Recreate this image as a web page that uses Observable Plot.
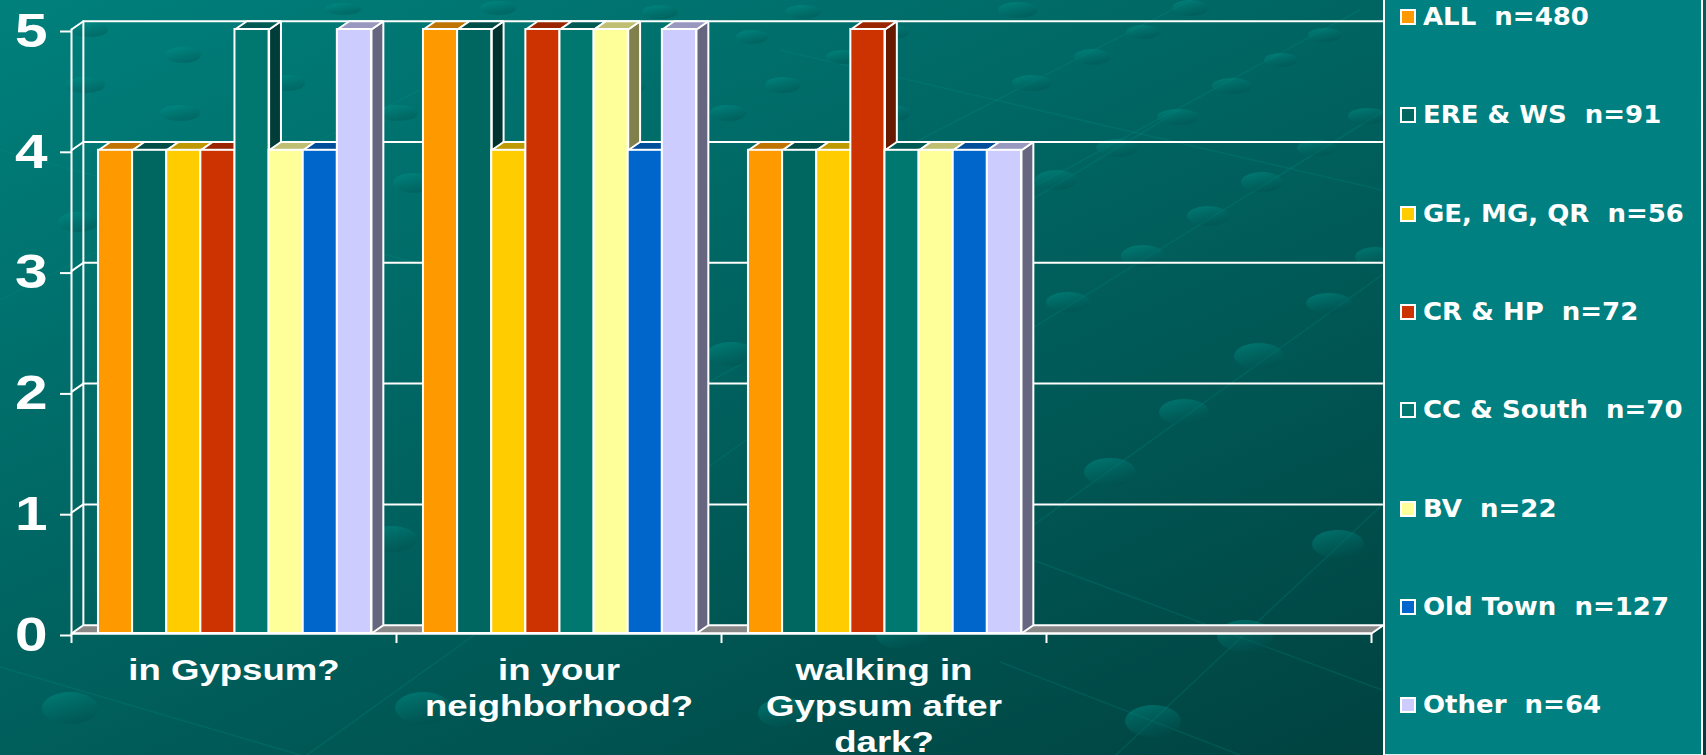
<!DOCTYPE html>
<html>
<head>
<meta charset="utf-8">
<script src="https://cdn.jsdelivr.net/npm/d3@7"></script>
<script src="https://cdn.jsdelivr.net/npm/@observablehq/plot@0.6"></script>
<style>
html,body{margin:0;padding:0;width:1706px;height:755px;overflow:hidden;background-color:#005a57;}
#chart{position:absolute;left:0;top:0;}
#legend{position:absolute;left:1383px;top:0;width:316px;height:754px;background:#008080;border-left:2px solid #fff;border-right:2px solid #fff;border-bottom:1px solid #dfeeee;font:bold 26px "DejaVu Sans",sans-serif;color:#fff;}
#legend .item{position:absolute;left:15px;display:flex;align-items:center;height:30px;white-space:pre;}
#legend .sw{width:12px;height:12px;border:2px solid #fff;margin-right:7px;flex:none;}
#legend span{display:inline-block;transform:scaleY(.92);}
</style>
</head>
<body>
<div id="chart"></div>
<div id="legend"></div>
<script>
// ---- chart data ----
const categories = ["in Gypsum?", "in your\nneighborhood?", "walking in\nGypsum after\ndark?", ""];
const series = ["ALL", "ERE & WS", "GE, MG, QR", "CR & HP", "CC & South", "BV", "Old Town", "Other"];
const counts = [480, 91, 56, 72, 70, 22, 127, 64];
const colors = ["#FF9900", "#006660", "#FFCC00", "#CC3300", "#007870", "#FFFF99", "#0066CC", "#CCCCFF"];
const inGypsum = [4, 4, 4, 4, 5, 4, 4, 5];
const inNeighborhood = [5, 5, 4, 5, 5, 5, 4, 5];
const walkingAfterDark = [4, 4, 4, 5, 4, 4, 4, 4];
const yTicks = [0, 1, 2, 3, 4, 5];

// ---- page backdrop (decorative slide texture, not data) ----
const blobs = [[1018,10,20,8],[1190,8,18,8],[1143,32,17,7],[1092,57,18,8],[1032,83,20,8],[1325,35,17,7],[1281,60,17,7],[1232,86,20,8],[1178,117,21,8],[1368,116,20,8],[1117,148,21,9],[1317,148,20,8],[1056,180,21,10],[1262,182,21,10],[1208,216,21,10],[1143,256,22,11],[1375,257,20,10],[1068,302,22,10],[1329,303,23,10],[1259,356,25,13],[1184,412,25,13],[1338,544,26,14],[1110,472,26,14],[1245,636,28,16],[1153,721,28,16],[902,635,26,14],[785,713,27,15],[70,708,28,16],[423,708,28,16],[392,539,25,13],[731,354,24,12],[183,55,18,8],[180,113,20,8],[85,85,20,8],[413,183,20,10],[78,222,20,10],[287,83,18,8],[398,113,20,8],[343,9,18,6],[90,30,18,7],[498,8,18,7],[660,12,18,7],[803,12,18,7],[752,37,16,7],[692,62,16,7],[783,85,18,8],[728,113,18,8],[893,113,18,8],[842,57,16,7],[893,32,16,7],[630,86,16,8]];
const rays = [[900,150,1230,-20],[1000,205,1360,10],[940,255,1180,110],[900,410,1382,112],[950,585,1382,275],[1100,770,1382,505],[640,420,1020,210],[300,760,760,430],[0,300,420,90],[0,667,420,790],[1033,560,1382,690],[1000,662,1240,755],[0,150,700,340],[780,50,1382,190]];
const backdrop = `<svg xmlns="http://www.w3.org/2000/svg" width="1706" height="755">
<defs><linearGradient id="g" x1="0.2" y1="0" x2="0.7" y2="1"><stop offset="0" stop-color="#009a90" stop-opacity=".45"/><stop offset="1" stop-color="#004a48" stop-opacity=".35"/></linearGradient>
<linearGradient id="b" x1="0" y1="0" x2="1" y2="1"><stop offset="0" stop-color="#00807C"/><stop offset="1" stop-color="#003C3A"/></linearGradient></defs>
<rect width="1706" height="755" fill="url(#b)"/>
${rays.map(r => `<line x1="${r[0]}" y1="${r[1]}" x2="${r[2]}" y2="${r[3]}" stroke="#00928a" stroke-opacity=".22" stroke-width="1.5"/>`).join("")}
${blobs.map(b => `<ellipse cx="${b[0]}" cy="${b[1]}" rx="${b[2]}" ry="${b[3]}" fill="url(#g)"/>`).join("")}
</svg>`;
document.body.style.backgroundImage = `url("data:image/svg+xml,${encodeURIComponent(backdrop)}")`;

// ---- bars as a table ----
const rows = [inGypsum, inNeighborhood, walkingAfterDark].flatMap((vals, c) =>
  vals.map((value, s) => ({category: c, series: series[s], s, value})));

const groupGap = 0.083, barW = 0.105;      // in category units along x
const depthX = 0.0365, depthY = 0.0687;    // oblique depth in x / y data units
const x0 = d => d.category + groupGap + d.s * barW;
const x1 = d => x0(d) + barW;
const shade = (c, k) => { const r = d3.rgb(c); return d3.rgb(r.r * k, r.g * k, r.b * k).formatHex(); };

const poly = (pts, fill) => Plot.line(pts, {x: "0", y: "1", curve: "linear-closed", fill, stroke: "#fff", strokeWidth: 2, strokeLinejoin: "miter"});
const seg = (pts, w = 2) => Plot.line(pts, {x: "0", y: "1", stroke: "#fff", strokeWidth: w});

const barMarks = rows.flatMap(d => {
  const a = x0(d), b = x1(d), v = d.value, col = colors[d.s];
  return [
    poly([[b, 0], [b + depthX, depthY], [b + depthX, v + depthY], [b, v]], shade(col, 0.5)),
    poly([[a, v], [b, v], [b + depthX, v + depthY], [a + depthX, v + depthY]], shade(col, 0.75)),
    Plot.rect([d], {x1: x0, x2: x1, y1: 0, y2: "value", fill: "series", stroke: "#fff", strokeWidth: 2})
  ];
});

const plot = Plot.plot({
  width: 1706, height: 755,
  marginLeft: 71, marginRight: 335, marginTop: 29, marginBottom: 122,
  style: {background: "transparent", fontFamily: "'Liberation Sans',Arial,sans-serif", fontWeight: "bold", color: "#fff", overflow: "visible"},
  x: {domain: [0, 4], label: null},
  y: {domain: [0, 5], label: null},
  color: {domain: series, range: colors},
  marks: [
    // back wall gridlines
    Plot.ruleY(yTicks.slice(1), {y: d => d + depthY, x1: depthX, x2: 4 + depthX, stroke: "#fff", strokeWidth: 2, strokeOpacity: 1}),
    // left wall
    ...yTicks.slice(1).map(v => seg([[0, v], [depthX, v + depthY]])),
    seg([[depthX, depthY], [depthX, 5 + depthY]]),
    seg([[0, 0], [0, 5]]),
    // floor
    poly([[0, 0], [4, 0], [4 + depthX, depthY], [depthX, depthY]], "#888888"),
    ...barMarks,
    // axes
    Plot.axisY({ticks: yTicks, tickSize: 11, tickPadding: 13, fontSize: 48, dy: 2, stroke: "#fff", strokeWidth: 2, strokeOpacity: 1, fill: "#fff", label: null, tickFormat: d3.format("d")}),
    Plot.axisX({ticks: [0, 1, 2, 3, 4], tickSize: 10, tickPadding: 0, stroke: "#fff", strokeWidth: 2, strokeOpacity: 1, tickFormat: () => "", label: null}),
    Plot.axisX({ticks: [0.5, 1.5, 2.5, 3.5], tickSize: 0, tickPadding: 21, fontSize: 30, lineHeight: 1.2, fill: "#fff", label: null, tickFormat: d => categories[Math.floor(d)]}),
    Plot.ruleY([0], {stroke: "#fff", strokeWidth: 2})
  ]
});
document.getElementById("chart").appendChild(plot);

// the reference's lettering is stretched horizontally
const stretch = (label, k) => plot.querySelectorAll(`g[aria-label="${label}"] text`).forEach(t =>
  t.setAttribute("transform", `${t.getAttribute("transform") || ""} scale(${k},1)`));
stretch("y-axis tick label", 1.22);
stretch("x-axis tick label", 1.22);

// ---- legend ----
const legend = d3.select("#legend");
series.forEach((name, i) => {
  const item = legend.append("div").attr("class", "item").style("top", (2 + i * 98.3) + "px");
  item.append("div").attr("class", "sw").style("background", colors[i]);
  item.append("span").text(`${name}  n=${counts[i]}`);
});
</script>
</body>
</html>
